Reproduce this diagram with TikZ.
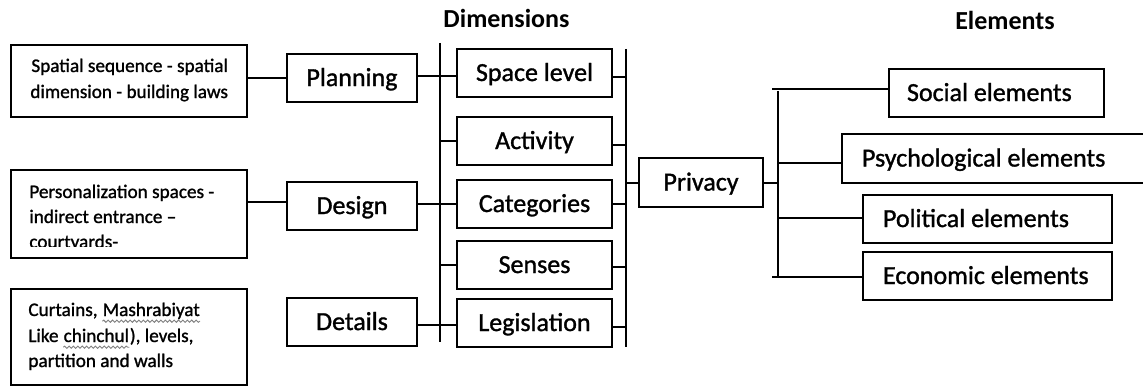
\documentclass[tikz,border=0pt]{standalone}
\usepackage{fontspec}
\setmainfont{Carlito}
\newfontfamily\boxfont{Carlito}[FakeBold=1.2]
\usetikzlibrary{decorations.pathmorphing}
\tikzset{
  bx/.style={draw, line width=1.3pt, inner sep=0pt, text height=10pt, text depth=2pt,
             font=\boxfont\fontsize{13}{15}\selectfont},
  small/.style={inner sep=0pt, anchor=base west, font=\boxfont\fontsize{9.6}{11}\selectfont},
  ttl/.style={inner sep=0pt, anchor=base, font=\fontsize{13}{15}\selectfont\bfseries},
  ln/.style={line width=1pt},
  bus/.style={line width=1.1pt},
  sq/.style={draw=black!50, line width=0.45pt, decorate,
             decoration={snake, amplitude=0.55pt, segment length=2.2pt}},
}
\begin{document}
\begin{tikzpicture}[x=0.5pt, y=-0.5pt]
\clip (0,0) rectangle (1143,385);
\fill[white] (0,0) rectangle (1143,385);

% titles
\node[ttl] (tdim) at (506.5,28) {Dimensions};
\node[ttl] (telm) at (1005,30) {Elements};

% left description boxes
\node[bx, minimum width=118pt, minimum height=36pt] (b1) at (129,81) {};
\node[bx, minimum width=118pt, minimum height=44pt] (b2) at (129,214) {};
\node[bx, minimum width=118pt, minimum height=48pt] (b3) at (129,337) {};

\node[small] (b1a) at (31,72) {Spatial sequence - spatial};
\node[small] (b1b) at (30,98) {dimension - building laws};

\begin{scope}
\clip (12,171) rectangle (246,246);
\node[small] (b2a) at (29,198) {Personalization spaces -};
\node[small] (b2b) at (29,223) {indirect entrance –};
\node[small] (b2c) at (29,248) {courtyards-};
\end{scope}

\node[small] (b3a) at (28,316) {Curtains,\ \null};
\node[small] (b3w) at (b3a.base east) {Mashrabiyat};
\node[small] (b3b) at (28,342) {Like\ \null};
\node[small] (b3x) at (b3b.base east) {chinchul};
\node[small] (b3y) at (b3x.base east) {), levels,};
\node[small] (b3c) at (28,367) {partition and walls};
\draw[sq] ([yshift=-2.6pt]b3w.base west) -- ([yshift=-2.6pt]b3w.base east);
\draw[sq] ([yshift=-2.6pt]b3x.base west) -- ([yshift=-2.6pt]b3x.base east);

% levels
\node[bx, minimum width=65pt, minimum height=24pt] (plan) at (352,78) {Planning};
\node[bx, minimum width=65pt, minimum height=24pt] (des) at (352,206) {Design};
\node[bx, minimum width=65pt, minimum height=24pt] (det) at (352,322) {Details};

% dimensions
\node[bx, minimum width=77.5pt, minimum height=24pt] (spc) at (534.5,73) {Space level};
\node[bx, minimum width=77.5pt, minimum height=24pt] (act) at (534.5,141) {Activity};
\node[bx, minimum width=77.5pt, minimum height=24pt] (cat) at (534.5,204) {Categories};
\node[bx, minimum width=77.5pt, minimum height=24pt] (sen) at (534.5,265) {Senses};
\node[bx, minimum width=77.5pt, minimum height=24pt] (leg) at (534.5,323) {Legislation};

% privacy
\node[bx, minimum width=62pt, minimum height=24.5pt] (priv) at (701,182.5) {Privacy};

% elements
\node[bx, minimum width=107.5pt, minimum height=24pt, inner xsep=9pt] (soc) at (996.5,93)
  {\makebox[89.5pt][l]{Social elements}};
\node[bx, minimum width=153pt, minimum height=24.5pt, inner xsep=10pt] (psy) at (995,158.5)
  {\makebox[133pt][l]{Psychological elements}};
\node[bx, minimum width=124.5pt, minimum height=24pt, inner xsep=10pt] (pol) at (987.5,219)
  {\makebox[104.5pt][l]{Political elements}};
\node[bx, minimum width=124.5pt, minimum height=24pt, inner xsep=10pt] (eco) at (987.5,276)
  {\makebox[104.5pt][l]{Economic elements}};

% bus coordinates
\coordinate (lbt) at (440,43);
\coordinate (lbb) at (440,342);
\coordinate (rbt) at (626,49);
\coordinate (rbb) at (626,347);
\coordinate (ebt) at (778,91);
\coordinate (ebb) at (778,277);
\coordinate (etl) at (772,89);
\coordinate (ebl) at (772,277);

\draw[bus] (lbt) -- (lbb);
\draw[bus] (rbt) -- (rbb);
\draw[bus] (ebt) -- (ebb);

% left connectors
\draw[ln] (b1.east |- 0,78) -- (plan.west |- 0,78);
\draw[ln] (b2.east |- 0,202) -- (des.west |- 0,202);
\draw[ln] (plan.east |- 0,76) -- (spc.west |- 0,76);
\draw[ln] (des.east |- 0,204) -- (cat.west |- 0,204);
\draw[ln] (det.east |- 0,325) -- (leg.west |- 0,325);

% left bus stubs
\draw[ln] (lbt |- act.west) -- (act.west);
\draw[ln] (lbt |- sen.west) -- (sen.west);

% right bus stubs
\draw[ln] (spc.east |- 0,77) -- (rbt |- 0,77);
\draw[ln] (act.east |- 0,145) -- (rbt |- 0,145);
\draw[ln] (cat.east) -- (rbt |- cat.east);
\draw[ln] (sen.east |- 0,267) -- (rbt |- 0,267);
\draw[ln] (leg.east |- 0,327) -- (rbt |- 0,327);

% privacy connectors
\draw[ln] (rbt |- priv.west) -- (priv.west);
\draw[ln] (priv.east) -- (ebt |- priv.east);

% element connectors
\draw[ln] (etl) -- (soc.west |- etl);
\draw[ln] (ebt |- 0,163) -- (psy.west |- 0,163);
\draw[ln] (ebt |- 0,218) -- (pol.west |- 0,218);
\draw[ln] (ebl) -- (eco.west |- ebl);
\end{tikzpicture}
\end{document}
